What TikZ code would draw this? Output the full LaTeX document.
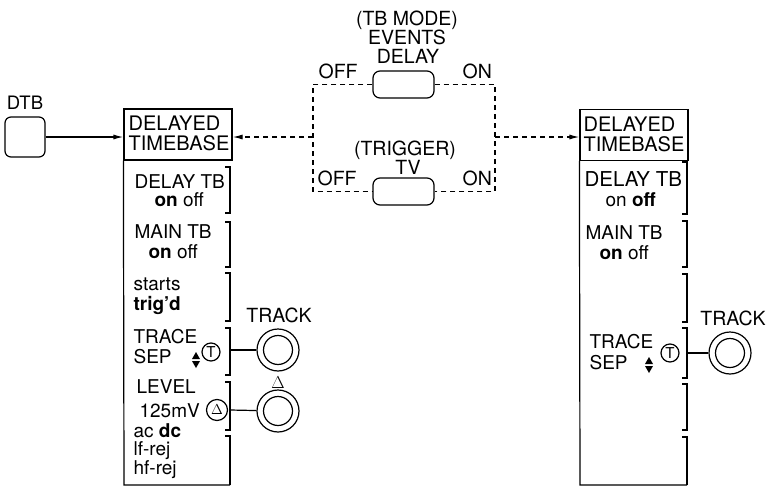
\documentclass[tikz,border=0pt]{standalone}
\usepackage{fontspec}
\setmainfont{TeX Gyre Heros}
\usetikzlibrary{arrows.meta}
\begin{document}
\begin{tikzpicture}[x=1pt,y=-1pt,
  line width=1.2pt,
  txt/.style={inner sep=0pt, anchor=base west, font=\fontsize{19}{19}\selectfont},
  hdr/.style={inner sep=0pt, anchor=base west, font=\fontsize{20}{20}\selectfont},
  ctxt/.style={inner sep=0pt, anchor=base, font=\fontsize{19.5}{19.5}\selectfont},
  panelhead/.style={draw, minimum width=108, minimum height=51, inner sep=0pt},
  btn/.style={draw, rounded corners=7, minimum width=61, minimum height=27, inner sep=0pt},
  knob/.style={draw, circle, minimum size=42, inner sep=0pt},
  smallc/.style={draw, circle, minimum size=18, inner sep=0pt, font=\fontsize{15}{15}\selectfont},
  dsh/.style={dash pattern=on 5pt off 4pt},
  arr/.style={-{Latex[length=10pt,width=5pt]}},
]
\useasboundingbox (0,0) rectangle (772,490);

% ---------- DTB ----------
\node[draw, rounded corners=6, minimum size=40, inner sep=0pt] (dtb) at (25,137) {};
\node[ctxt, font=\fontsize{18.5}{18.5}\selectfont] (dtbl) at (25,109) {DTB};

% ---------- Left panel ----------
\node[panelhead] (lhead) at (178,134.5) {};
\node[hdr] (lh1) at (128,130) {DELAYED};
\node[hdr] (lh2) at (128,150) {TIMEBASE};
\draw (lhead.south west) -- (124,485) -- (230,485);
% brackets
\draw (225,167) -- (230,167) -- (230,213) -- (225,213);
\draw (225,222) -- (230,222) -- (230,267) -- (225,267);
\draw (225,273) -- (230,273) -- (230,321) -- (225,321);
\draw (225,328) -- (230,328) -- (230,375) -- (225,375);
\draw (225,382) -- (230,382) -- (230,430) -- (225,430);
\draw (225,436) -- (230,436) -- (230,485);
% texts
\node[txt] (l1a) at (134,188) {DELAY TB};
\node[txt] (l1b) at (154,206) {\textbf{on} off};
\node[txt] (l2a) at (134,238) {MAIN TB};
\node[txt] (l2b) at (148,258) {\textbf{on} off};
\node[txt] (l3a) at (133,290) {starts};
\node[txt] (l3b) at (133,310) {\textbf{trig’d}};
\node[txt] (l4a) at (133,343) {TRACE};
\node[txt] (l4b) at (133,363) {SEP};
\fill (192,359) -- (200,359) -- (196,352) -- cycle;
\fill (192,361) -- (200,361) -- (196,368) -- cycle;
\node[smallc] (lt) at (211,352) {T};
\node[txt] (l5a) at (136,393) {LEVEL};
\node[txt] (l5b) at (139,417) {125mV};
\node[smallc, minimum size=21, font=\fontsize{14}{14}\selectfont] (ld) at (217,410) {$\Delta$};
\node[txt] (l6a) at (133,437) {ac \textbf{dc}};
\node[txt] (l6b) at (133,455) {lf-rej};
\node[txt] (l6c) at (133,474) {hf-rej};
% knobs
\coordinate (lb4) at (230,350);
\coordinate (lb5) at (230,410);
\node[knob] (ltrack) at (278,350) {};
\draw (ltrack.center) circle (14.5);
\node[ctxt] (ltrackl) at (279,322) {TRACK};
\draw (lb4) -- (ltrack);
\node[knob] (ldelta) at (278,411) {};
\draw (ldelta.center) circle (14.5);
\node[ctxt, font=\fontsize{17}{17}\selectfont] (ldeltal) at (278,388) {$\Delta$};
\draw (lb5) -- (ldelta);

% ---------- Middle ----------
\node[ctxt] (m1) at (407,25) {(TB MODE)};
\node[ctxt] (m2) at (407,44) {EVENTS};
\node[ctxt] (m3) at (408,63) {DELAY};
\node[txt, font=\fontsize{19.5}{19.5}\selectfont] (off1) at (318,78) {OFF};
\node[txt, font=\fontsize{19.5}{19.5}\selectfont] (on1) at (462,78) {ON};
\node[btn] (evb) at (403.5,84.5) {};
\node[ctxt] (m4) at (405,155) {(TRIGGER)};
\node[ctxt] (m5) at (408,174) {TV};
\node[txt, font=\fontsize{19.5}{19.5}\selectfont] (off2) at (317,185) {OFF};
\node[txt, font=\fontsize{19.5}{19.5}\selectfont] (on2) at (462,185) {ON};
\node[btn] (tvb) at (403.5,191.5) {};
\coordinate (ftl) at (313,84.5);
\coordinate (fbl) at (313,191.5);
\coordinate (ftr) at (495,84.5);
\coordinate (fbr) at (495,191.5);
\draw[dsh] (evb.west) -- (ftl) -- (fbl) -- (tvb.west);
\draw[dsh] (evb.east) -- (ftr) -- (fbr) -- (tvb.east);
\coordinate (fml) at (313,137);
\coordinate (fmr) at (495,137);

% ---------- Right panel ----------
\node[panelhead] (rhead) at (634,135) {};
\node[hdr] (rh1) at (583,131) {DELAYED};
\node[hdr] (rh2) at (583,151) {TIMEBASE};
\draw (rhead.south west) -- (580,485) -- (687,485);
\draw (682,162) -- (687,162) -- (687,214) -- (682,214);
\draw (682,221) -- (687,221) -- (687,267) -- (682,267);
\draw (682,274) -- (687,274) -- (687,322) -- (682,322);
\draw (682,328) -- (687,328) -- (687,378) -- (682,378);
\draw (682,384) -- (687,384) -- (687,430) -- (682,430);
\draw (682,437) -- (687,437) -- (687,485);
\node[txt, font=\fontsize{20.5}{20.5}\selectfont] (r1a) at (584,186) {DELAY TB};
\node[txt] (r1b) at (605,206) {on \textbf{off}};
\node[txt] (r2a) at (585,239) {MAIN TB};
\node[txt] (r2b) at (599,259) {\textbf{on} off};
\node[txt] (r4a) at (589,348) {TRACE};
\node[txt] (r4b) at (589,369) {SEP};
\fill (645,364) -- (653,364) -- (649,357) -- cycle;
\fill (645,366) -- (653,366) -- (649,373) -- cycle;
\node[smallc] (rt) at (670,353) {T};
\coordinate (rb4) at (687,353);
\node[knob] (rtrack) at (730,353) {};
\draw (rtrack.center) circle (14.5);
\node[ctxt] (rtrackl) at (733,325) {TRACK};
\draw (rb4) -- (rtrack);

% ---------- connectors ----------
\draw[arr] (dtb.east) -- (dtb.east -| lhead.west);
\draw[dsh, arr] (fml) -- (fml -| lhead.east);
\draw[dsh, arr] (fmr) -- (fmr -| rhead.west);
\end{tikzpicture}
\end{document}
